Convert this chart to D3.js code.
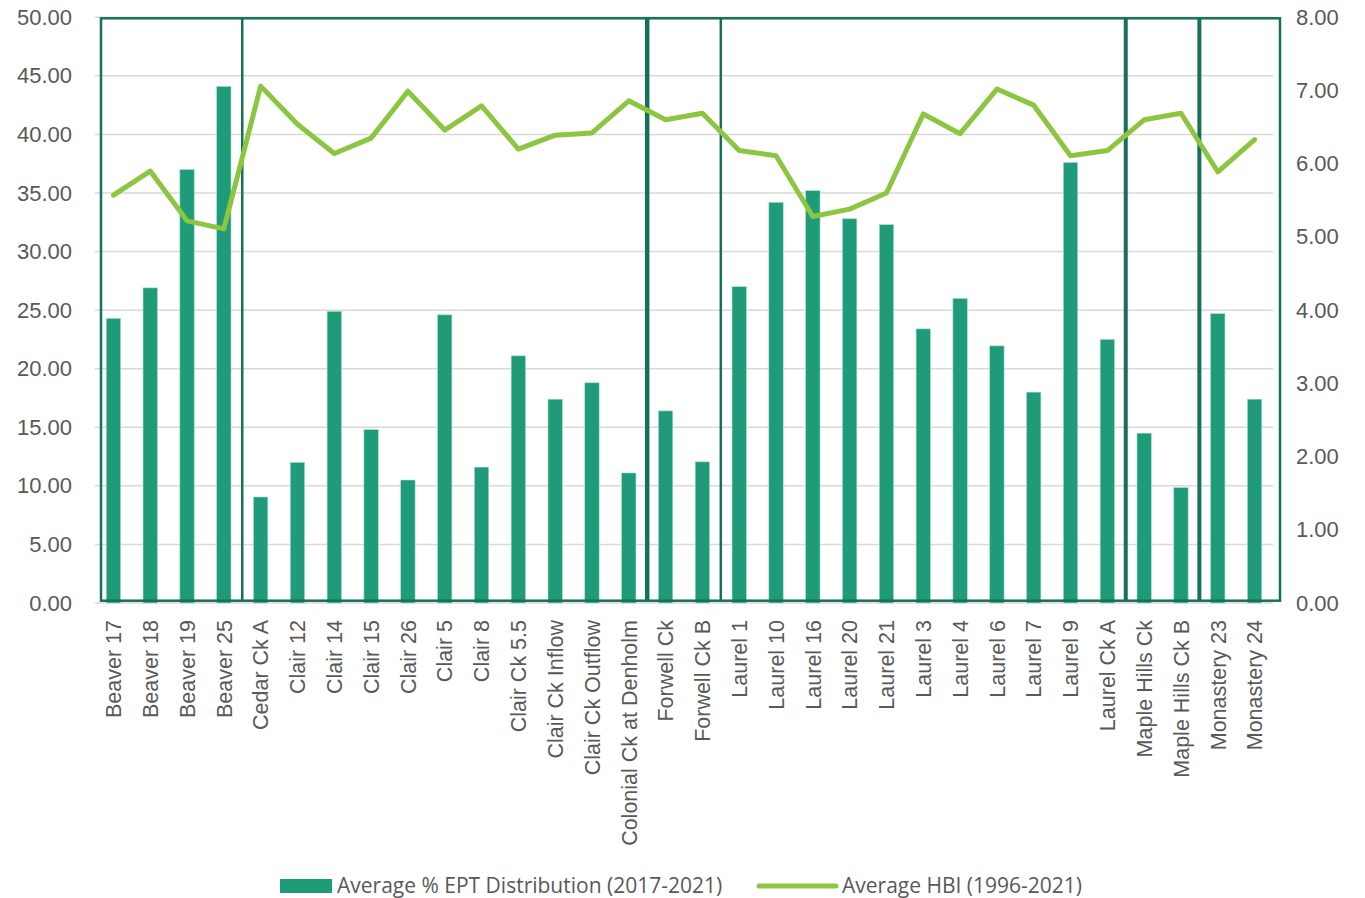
<!DOCTYPE html>
<html lang="en">
<head>
    <meta charset="UTF-8">
    <title>EPT and HBI by site</title>
    <style>
        body { margin: 0; background: #fff; }
        svg { display: block; font-family: "Open Sans", sans-serif; }
    </style>
</head>
<body>
    <svg></svg>
    <script src="https://d3js.org/d3.v7.min.js"></script>
    <script>
        var sites = ["Beaver 17", "Beaver 18", "Beaver 19", "Beaver 25", "Cedar Ck A", "Clair 12", "Clair 14",
            "Clair 15", "Clair 26", "Clair 5", "Clair 8", "Clair Ck 5.5", "Clair Ck Inflow", "Clair Ck Outflow",
            "Colonial Ck at Denholm", "Forwell Ck", "Forwell Ck B", "Laurel 1", "Laurel 10", "Laurel 16",
            "Laurel 20", "Laurel 21", "Laurel 3", "Laurel 4", "Laurel 6", "Laurel 7", "Laurel 9", "Laurel Ck A",
            "Maple Hills Ck", "Maple Hills Ck B", "Monastery 23", "Monastery 24"];
        // % EPT (left axis)
        var ept = [24.3, 26.9, 37.0, 44.1, 9.05, 12.0, 24.9, 14.8, 10.5, 24.6, 11.6, 21.1, 17.4, 18.8,
            11.1, 16.4, 12.05, 27.0, 34.2, 35.2, 32.8, 32.3, 23.4, 26.0, 21.95, 18.0, 37.6, 22.5,
            14.5, 9.85, 24.7, 17.4];
        // HBI (right axis)
        var hbi = [5.57, 5.90, 5.22, 5.11, 7.06, 6.54, 6.14, 6.35, 6.99, 6.46, 6.79, 6.20, 6.39, 6.42,
            6.86, 6.60, 6.69, 6.18, 6.11, 5.28, 5.38, 5.60, 6.68, 6.41, 7.02, 6.80, 6.11, 6.18,
            6.60, 6.69, 5.89, 6.33];
        // number of sites in each watershed box
        var groupSizes = [4, 11, 2, 11, 2, 2];
        var leftTicks = [0, 5, 10, 15, 20, 25, 30, 35, 40, 45, 50];
        var rightTicks = [0, 1, 2, 3, 4, 5, 6, 7, 8];
        var seriesNames = ["Average % EPT Distribution (2017-2021)", "Average HBI (1996-2021)"];

        var svgWidth = 1365, svgHeight = 898;
        var margin = { top: 17.3, right: 92, bottom: 295, left: 95 };
        var width = svgWidth - margin.left - margin.right;
        var height = svgHeight - margin.top - margin.bottom;

        var barColor = "#1f9b79", lineColor = "#8cc540", boxColor = "#17705a", textColor = "#595959";

        var svg = d3.select("svg").attr("width", svgWidth).attr("height", svgHeight);
        var g = svg.append("g").attr("transform", "translate(" + margin.left + "," + margin.top + ")");

        var x = d3.scaleBand().domain(sites).range([0, width]).padding(0);
        var y = d3.scaleLinear().domain([0, 50]).range([height, 0]);
        var y2 = d3.scaleLinear().domain([0, 8]).range([height, 0]);

        // gridlines
        g.append("g")
            .selectAll("line")
            .data(leftTicks)
            .enter().append("line")
            .attr("x1", 0).attr("x2", width)
            .attr("y1", function(d) { return y(d); })
            .attr("y2", function(d) { return y(d); })
            .attr("stroke", "#d9d9d9")
            .attr("stroke-width", 1.5);

        // left axis
        var yAxis = g.append("g")
            .call(d3.axisLeft(y).tickValues(leftTicks).tickFormat(d3.format(".2f")).tickSize(0).tickPadding(23));
        yAxis.select(".domain").remove();
        yAxis.selectAll("text").attr("fill", textColor).style("font-size", "22px");

        // right axis
        var yAxis2 = g.append("g")
            .attr("transform", "translate(" + width + ",0)")
            .call(d3.axisRight(y2).tickValues(rightTicks).tickFormat(d3.format(".2f")).tickSize(0).tickPadding(23));
        yAxis2.select(".domain").remove();
        yAxis2.selectAll("text").attr("fill", textColor).style("font-size", "22px");

        // bars
        var barW = x.bandwidth() * 0.39;
        g.append("g")
            .selectAll("rect")
            .data(ept)
            .enter().append("rect")
            .attr("x", function(d, i) { return x(sites[i]) + (x.bandwidth() - barW) / 2; })
            .attr("y", function(d) { return y(d); })
            .attr("width", barW)
            .attr("height", function(d) { return height - y(d); })
            .attr("fill", barColor)
            .attr("stroke", "#a8dccb")
            .attr("stroke-width", 0.6);

        // category labels
        var xAxis = g.append("g")
            .attr("transform", "translate(0," + height + ")")
            .call(d3.axisBottom(x).tickSize(0).tickPadding(0));
        xAxis.select(".domain").remove();
        xAxis.selectAll("text")
            .attr("fill", textColor)
            .style("font-size", "21.5px")
            .attr("text-anchor", "end")
            .attr("transform", "rotate(-90)")
            .attr("x", -17)
            .attr("y", 0)
            .attr("dy", "0.36em");

        // watershed boxes
        var bounds = [0];
        groupSizes.forEach(function(n) { bounds.push(bounds[bounds.length - 1] + n); });
        var frameLeft = x(sites[0]) + 6, frameRight = width + 7;
        var frameTop = y(50) + 1, frameBottom = y(0) - 2.3;
        g.append("rect")
            .attr("x", frameLeft).attr("y", frameTop)
            .attr("width", frameRight - frameLeft)
            .attr("height", frameBottom - frameTop)
            .attr("fill", "none")
            .attr("stroke", boxColor)
            .attr("stroke-width", 2.5);
        var sepWidths = [2.5, 4.5, 2.5, 4, 4];
        g.append("g")
            .selectAll("line")
            .data(bounds.slice(1, -1))
            .enter().append("line")
            .attr("x1", function(d) { return x(sites[d]); })
            .attr("x2", function(d) { return x(sites[d]); })
            .attr("y1", frameTop).attr("y2", frameBottom)
            .attr("stroke", boxColor)
            .attr("stroke-width", function(d, i) { return sepWidths[i]; });

        // HBI line
        var line = d3.line()
            .x(function(d, i) { return x(sites[i]) + x.bandwidth() / 2; })
            .y(function(d) { return y2(d); });
        g.append("path")
            .datum(hbi)
            .attr("fill", "none")
            .attr("stroke", lineColor)
            .attr("stroke-width", 5)
            .attr("stroke-linejoin", "round")
            .attr("stroke-linecap", "round")
            .attr("d", line);

        // legend
        var legend = svg.append("g").attr("transform", "translate(0,886)");
        legend.append("rect")
            .attr("x", 280).attr("y", -7).attr("width", 52).attr("height", 14)
            .attr("fill", barColor);
        legend.append("text")
            .attr("x", 337).attr("dy", "0.35em")
            .attr("fill", textColor).style("font-size", "21px")
            .text(seriesNames[0]);
        legend.append("line")
            .attr("x1", 759).attr("x2", 836)
            .attr("stroke", lineColor).attr("stroke-width", 5).attr("stroke-linecap", "round");
        legend.append("text")
            .attr("x", 842).attr("dy", "0.35em")
            .attr("fill", textColor).style("font-size", "21px")
            .text(seriesNames[1]);
    </script>
</body>
</html>
